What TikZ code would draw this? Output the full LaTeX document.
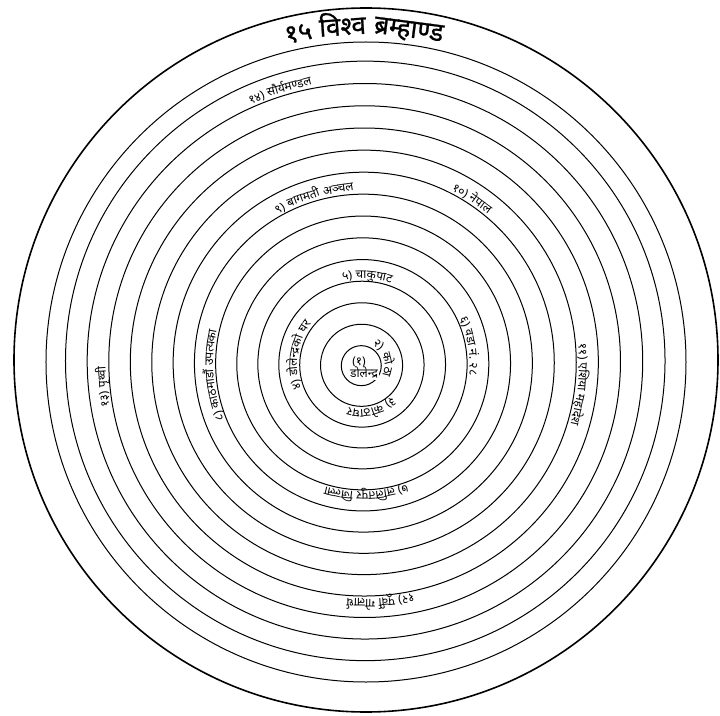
\documentclass[tikz,border=0pt]{standalone}
\usepackage{fontspec}
\newfontfamily\devfont[Script=Devanagari]{Noto Sans}
\newfontfamily\devtitle[Script=Devanagari, FakeBold=1]{Noto Sans}
\newcommand\labfont{\devfont\fontsize{12}{14}\selectfont}
\newcommand\titlefont{\devtitle\fontsize{26}{30}\selectfont}
\tikzset{
  ring/.style={line width=1pt, draw=black},
  outerring/.style={line width=1.6pt, draw=black},
  arcchunk/.style={inner sep=0pt, anchor=base},
  centrelabel/.style={inner sep=1pt, fill=white, font=\labfont, align=center}
}
% text set along a circle, clockwise, letters pointing outward
\newdimen\chunkw
\newcommand\arctext[5]{%
  \xdef\arcang{#4}%
  \pgfmathsetmacro\arccx{5*#3/352}%
  \pgfmathsetmacro\arccy{6*#3/352}%
  \foreach \ch [count=\i] in {#5}{%
    \pgfinterruptpicture\settowidth{\chunkw}{#2\ch}\global\chunkw=\chunkw\endpgfinterruptpicture
    \pgfmathsetmacro\arcmid{\arcang-\chunkw*90/(pi*#3)}%
    \node[arcchunk, rotate=\arcmid-90] (#1-\i)
      at ([shift={(\arccx,\arccy)}]\arcmid:#3) {#2\ch};
    \pgfmathsetmacro\arcnext{\arcang-\chunkw*180/(pi*#3)}%
    \xdef\arcang{\arcnext}%
  }%
}

\begin{document}
\begin{tikzpicture}[x=1pt, y=1pt]
\useasboundingbox (-361,-349) rectangle (359,366);

% rings
\draw[outerring] (5,6) circle (352);
\draw[ring] (5,4) circle (320);
\foreach \k in {1,...,14}{
  \pgfmathsetmacro\r{20+21*(\k-1)+0.04*(\k-1)^2}
  \draw[ring] ({5*\r/352},{6*\r/352}) circle (\r);
}

% centre
\node[centrelabel] (one) at (-2,4) {(१)};
\node[centrelabel] (dolendra) at (3,-7) {डोलेन्द्र};

% labels, inside out
\arctext{room}{\labfont}{23}{62}{२), ~, को, ठा}
\arctext{floor}{\labfont}{44}{-46}{३), ~, को, ठा, घ, र}
\arctext{house}{\labfont}{65}{201}{४), ~, डो, ले, न्द्र, को, ~, घ, र}
\arctext{tole}{\labfont}{86}{103}{५), ~, चा, कु, पा, ट}
\arctext{ward}{\labfont}{107}{25}{६), ~, व, डा, ~, नं., ~, २८}
\arctext{district}{\labfont}{128}{-70}{७), ~, ल, लि, त, पु, र, ~, जि, ल्ला}
\arctext{valley}{\labfont}{150}{202}{८), ~, का, ठ, मा, डौं, ~, उ, प, त्य, का}
\arctext{zone}{\labfont}{172}{120}{९), ~, बागमती, ~, अञ्चल}
\arctext{country}{\labfont}{193}{63}{१०), ~, नेपाल}
\arctext{continent}{\labfont}{215}{5}{११), ~, एशिया, ~, महादेश}
\arctext{hemisphere}{\labfont}{237}{-78}{१२), ~, पूर्वी, ~, गोलार्ध}
\arctext{earth}{\labfont}{259}{190}{१३), ~, पृथ्वी}
\arctext{solar}{\labfont}{281}{114}{१४), ~, सौर्यमण्डल}
\arctext{universe}{\titlefont}{326}{104}{१५, ~, विश्व, ~, ब्रम्हाण्ड}
\end{tikzpicture}
\end{document}
